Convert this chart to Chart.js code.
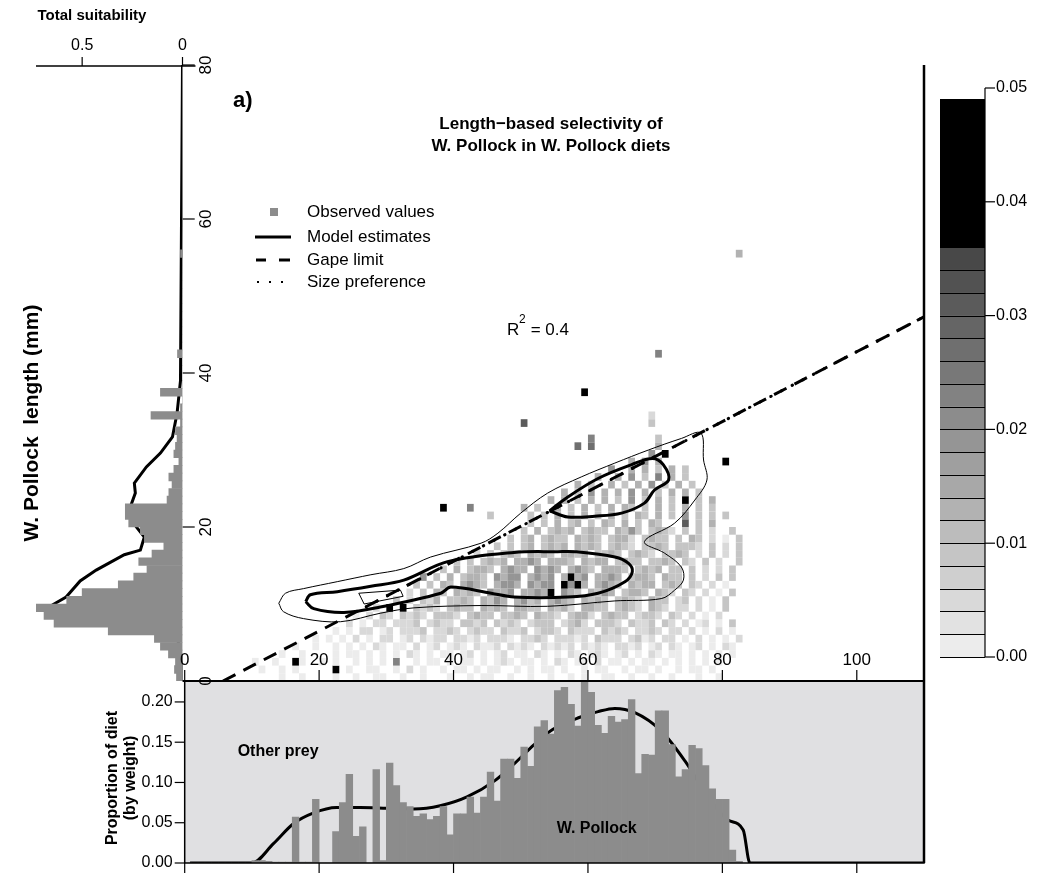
<!DOCTYPE html>
<html>
<head>
<meta charset="utf-8">
<script src="https://cdn.jsdelivr.net/npm/chart.js@4.4.1/dist/chart.umd.min.js"></script>
<style>
  html, body { margin: 0; padding: 0; background: #fff; }
  #wrap { position: relative; width: 1038px; height: 874px; overflow: hidden; }
  #wrap canvas { position: absolute; left: 0; top: 0; }
</style>
</head>
<body>
<div id="wrap">
  <canvas id="dietChart" width="1038" height="874"></canvas>
  <canvas id="suitChart" width="1038" height="874"></canvas>
  <canvas id="mainChart" width="1038" height="874"></canvas>
  <canvas id="barChart" width="1038" height="874"></canvas>
</div>
<script>
// ---- ticks ----
const mainXTicks = [0, 20, 40, 60, 80, 100];
const mainYTicks = [0, 20, 40, 60, 80];
const suitTicks = [0.5, 0];
const dietYTicks = [0, 0.05, 0.10, 0.15, 0.20];
const colorTicks = [0, 0.01, 0.02, 0.03, 0.04, 0.05];

// ---- left panel: prey length histogram (1 mm bins) + total suitability ----
const lengthHist = [0.03, 0.04, 0.035, 0.07, 0.11, 0.14, 0.37, 0.64, 0.69, 0.735,
  0.577, 0.50, 0.32, 0.243, 0.177, 0.218, 0.152, 0.093, 0.19, 0.21,
  0.268, 0.285, 0.285, 0.077, 0.068, 0.052, 0.068, 0.043, 0.018, 0.043,
  0.035, 0.027, 0.035, 0.01, 0.157, 0.01, 0, 0.11, 0, 0,
  0, 0, 0.025, 0, 0, 0, 0, 0, 0, 0,
  0, 0, 0, 0, 0, 0.01];
const suitLen = [0, 3, 5.8, 9.7, 10.9, 13, 14.4, 16.4, 17, 18.7, 20, 21.8, 22.6, 24.4, 25.7,
  27.8, 29.6, 31.7, 34.8, 39, 80];
const suitVal = [0, 0.005, 0.027, 0.66, 0.58, 0.51, 0.43, 0.29, 0.21, 0.19, 0.23, 0.27, 0.26,
  0.235, 0.24, 0.18, 0.11, 0.05, 0.027, 0.01, 0];

// ---- bottom panel: proportion of diet by predator length (1 mm bins) ----
const dietProp = [0, 0, 0, 0, 0, 0, 0, 0, 0, 0,
  0.003, 0.003, 0.002, 0.001, 0.001, 0.001, 0.057, 0.001, 0.001, 0.079,
  0, 0, 0.039, 0.075, 0.11, 0.033, 0.045, 0, 0.116, 0.003,
  0.124, 0.096, 0.075, 0.07, 0.058, 0.061, 0.054, 0.058, 0.07, 0.035,
  0.061, 0.061, 0.082, 0.062, 0.082, 0.113, 0.077, 0.129, 0.129, 0.105,
  0.144, 0.12, 0.169, 0.177, 0.16, 0.214, 0.218, 0.197, 0.17, 0.225,
  0.212, 0.171, 0.161, 0.182, 0.175, 0.178, 0.203, 0.111, 0.135, 0.134,
  0.189, 0.189, 0.147, 0.107, 0.116, 0.146, 0.142, 0.121, 0.092, 0.079,
  0.079, 0.016, 0.002];
const dietFitX = [0.8, 10, 13.2, 16.2, 19.1, 22.6, 26.1, 30.1, 34.1, 38, 42, 46.1, 49, 52, 54.8,
  58.8, 61.5, 64, 66.9, 70.9, 74.4, 77.9, 80.9, 83.1, 84.1, 110];
const dietFitY = [0, 0, 0.024, 0.049, 0.062, 0.069, 0.069, 0.068, 0.067, 0.071, 0.082, 0.102,
  0.123, 0.147, 0.166, 0.181, 0.188, 0.192, 0.187, 0.164, 0.127, 0.082, 0.053, 0.041, 0, 0];

// ---- main panel: model contours, gape limit, size preference ----
const outerX = [14.0, 15.0, 17.7, 22.7, 27.7, 32.6, 36.6, 44.1, 46.6, 50.0, 54.0, 59.0, 64.0, 69.0,
  73.9, 76.8, 77.2, 77.7, 75.9, 72.9, 68.4, 71.4, 73.9, 74.2, 72.9, 70.9, 64.0, 54.0, 44.1,
  34.1, 29.1, 23.2, 17.7, 14.7];
const outerY = [10.1, 11.4, 12.0, 12.9, 13.8, 14.6, 16.1, 17.9, 19.2, 21.8, 24.4, 26.5, 28.3, 30.0,
  31.5, 32.2, 28.7, 26.1, 23.5, 20.5, 18.1, 16.6, 14.8, 13.1, 11.8, 10.7, 10.4, 9.7, 9.8,
  9.5, 8.8, 7.7, 8.1, 9.0];
const innerLowX = [18.0, 18.7, 22.7, 27.7, 32.6, 39.1, 49.0, 55.5, 58.0, 64.0, 66.0, 66.6, 65.5,
  61.5, 57.0, 49.0, 45.6, 39.6, 38.1, 29.1, 23.7, 19.2];
const innerLowY = [10.3, 11.2, 11.6, 12.3, 13.1, 15.5, 16.7, 16.8, 16.8, 16.1, 15.3, 14.2, 12.9,
  11.4, 10.9, 10.9, 11.4, 12.2, 11.4, 9.6, 8.9, 9.4];
const innerHighX = [54.3, 57.0, 61.5, 66.5, 69.6, 71.2, 72.0, 69.9, 68.4, 65.0, 61.0, 57.0];
const innerHighY = [22.1, 23.9, 26.3, 28.1, 28.9, 28.1, 26.1, 24.8, 23.1, 21.8, 21.4, 21.3];
const smallLoopX = [25.9, 32.1, 32.5, 26.7];
const smallLoopY = [11.4, 11.8, 11.0, 10.0];
const gapeX = [5.7, 110];
const gapeY = [0, 47.3];
const prefX = [27, 110];
const prefY = [9.64, 47.3];

// ---- observed values: rows of 1x1 mm cells [prey length, first predator length, codes] ----
// codes: '.' empty, '1' (lightest) .. '9' (darkest grey), 'X' black
const obsRows = [
  [0, 14, '1..1....1..1..11..1..1...1..1.11..1..1..1..1.1..11..1..1..1...1..1'],
  [1, 11, '1..1.1.....X.1..11..1.2.1..1.11.1.11..1.1.11.1..1.11..1.11.1..1.11.1'],
  [2, 10, '1..1..X1..1.1..1.1.1.6..1.11.1.11.1.121.11.1.21.11.2.11.1.11.1.1.1.1.1'],
  [3, 14, '1..1....1.11.1.1.1.21.1.11.12.1.12.11.21.1.21.121.12.1.21.11.1.1.1.1'],
  [4, 16, '1..1..1.1.1.21.11.2.12.121.2112.2121.21212.2121.2212.12.21.12.1.21'],
  [5, 19, '1.1.1.2.1.22.12.2122.2212.2221.2232.22212.3222.2312.22.1.2.1.1.2'],
  [6, 22, '1.1.22.12.2223.2232.2322.3223.2332.3222.3232.2232.22.2.1.2.1'],
  [7, 24, '2.1.22.2223.2322.3323.3232.2333.2342.3332.3223.32.2.12.1.3'],
  [8, 25, '1.2.32.3232.3332.3433.3343.4332.3442.3433.2332.32.2.1.2'],
  [9, 27, '.2.X.X.3232.3433.4343.4433.4342.4433.3432.432.22.2.1.3'],
  [10, 31, '3.2.324.3343.4354.4534.4543.4343.3432.433.23.2.1.3'],
  [11, 33, '2.3.43.4343.5445.4454X.543.4354.3443.432.32.2.1.3'],
  [12, 34, '3.3.43.4543.4554.5455.X5X4.4543.4344.343.32.2.1'],
  [13, 35, '5.3.4.3443.5455.4545.4X45.4454.3443.433.3.2.3.3'],
  [14, 38, '3.4.3443.4544.5454.4543.4443.3434.33.3.2.2.3'],
  [15, 40, '3.3.3434.4454.4443.4344.3433.3343.32.3.2..3'],
  [16, 43, '2.3.343.4343.4434.3343.3432.3343.2.3.2.3'],
  [17, 46, '3.3.34.3434.4343.3432.3343.3332.3.2.3'],
  [18, 48, '3.34.3433.4343.3442.3433.3.43.2.1.3'],
  [19, 50, '3.4.3434.3433.4353.3432.3.3.2..3'],
  [20, 51, '3.3.4.34.3.43.4.3.43...8.3.4'],
  [21, 45, '3.....3.3.4.3.4.3.4.3.43.4.3.5.3.3.3'],
  [22, 38, 'X...6.......4.3..4.3.4.3.4.43.3.4.3.4.3.3'],
  [23, 54, '4.4.3.4.4.3.5.3.4.3.X.3.4'],
  [24, 56, '4.3.5.4.4.5.4.3.4.4.3'],
  [25, 58, '4.3..4.3.4.5.3.4.3'],
  [26, 61, '4..4.5.3.6.4.3'],
  [27, 63, '5..4.4.3.4.3'],
  [28, 66, '4.5.4.........X'],
  [29, 69, '5.X'],
  [30, 58, '7.7.........4'],
  [31, 60, '6.........3'],
  [33, 50, '8..................3'],
  [34, 69, '2'],
  [37, 59, 'X'],
  [42, 70, '6'],
  [55, 82, '4']
];
const codeValues = { '1': 0.001, '2': 0.005, '3': 0.009, '4': 0.013, '5': 0.019, '6': 0.023,
  '7': 0.027, '8': 0.031, '9': 0.035, 'X': 0.045 };

// colour bar breaks: 18 grey steps of 0.002, then black
const colorBreaks = [0, 0.002, 0.004, 0.006, 0.008, 0.010, 0.012, 0.014, 0.016, 0.018, 0.020,
  0.022, 0.024, 0.026, 0.028, 0.030, 0.032, 0.034, 0.036, 0.049];

const FONT = "'Liberation Sans', Arial, Helvetica, sans-serif";
const TOP = 65, AXIS0 = 681, LEFT0 = 184.7, RIGHT = 924, DIETBOT = 863;

function segColor(k) {
  if (k >= colorBreaks.length - 2) return '#000';
  const g = Math.round(236 - k * (236 - 72) / 17);
  return `rgb(${g},${g},${g})`;
}
function codeColor(c) {
  const v = codeValues[c];
  let k = 0;
  while (k < colorBreaks.length - 2 && v >= colorBreaks[k + 1]) k++;
  return segColor(k);
}
function pts(xs, ys, close) {
  const p = xs.map((v, i) => ({ x: v, y: ys[i] }));
  if (close) p.push({ x: xs[0], y: ys[0] });
  return p;
}
function line(ctx, x0, y0, x1, y1, w) {
  ctx.beginPath();
  ctx.lineWidth = w || 1;
  ctx.moveTo(x0, y0);
  ctx.lineTo(x1, y1);
  ctx.stroke();
}
function rotText(ctx, txt, x, y, font) {
  ctx.save();
  ctx.translate(x, y);
  ctx.rotate(-Math.PI / 2);
  ctx.font = font;
  ctx.textAlign = 'center';
  ctx.textBaseline = 'middle';
  ctx.fillText(txt, 0, 0);
  ctx.restore();
}

const baseOpts = {
  responsive: false,
  devicePixelRatio: 1,
  animation: false,
  events: [],
  plugins: { legend: { display: false }, tooltip: { enabled: false } }
};

// ---------------- bottom panel ----------------
new Chart(document.getElementById('dietChart'), {
  type: 'bar',
  data: {
    datasets: [
      {
        type: 'bar',
        data: dietProp.map((v, i) => ({ x: i + 0.5, y: v })),
        backgroundColor: '#8c8c8c',
        borderWidth: 0,
        barPercentage: 1,
        categoryPercentage: 1
      },
      {
        type: 'line',
        data: pts(dietFitX, dietFitY),
        borderColor: '#000',
        borderWidth: 3,
        pointRadius: 0,
        cubicInterpolationMode: 'monotone'
      }
    ]
  },
  options: {
    ...baseOpts,
    layout: { padding: { left: LEFT0, right: 1038 - RIGHT, top: AXIS0, bottom: 874 - DIETBOT } },
    scales: {
      x: { type: 'linear', min: 0, max: 110, offset: false, display: false },
      y: { type: 'linear', min: 0, max: 0.226, display: false }
    }
  },
  plugins: [{
    id: 'dietDeco',
    beforeDatasetsDraw(chart) {
      const { ctx, chartArea: a } = chart;
      ctx.save();
      ctx.fillStyle = '#e0e0e2';
      ctx.fillRect(a.left, a.top, a.right - a.left, a.bottom - a.top);
      ctx.restore();
    },
    afterDraw(chart) {
      const { ctx, chartArea: a, scales: { x, y } } = chart;
      ctx.save();
      ctx.strokeStyle = '#000';
      ctx.fillStyle = '#000';
      ctx.lineWidth = 1.5;
      ctx.strokeRect(a.left, a.top, a.right - a.left, a.bottom - a.top);
      line(ctx, a.right, a.top, a.right, a.bottom, 2.5);
      ctx.font = `16px ${FONT}`;
      ctx.textAlign = 'right';
      ctx.textBaseline = 'middle';
      dietYTicks.forEach(t => {
        const py = y.getPixelForValue(t);
        line(ctx, a.left - 10, py, a.left, py, 1.2);
        ctx.fillText(t.toFixed(2), a.left - 12, py);
      });
      mainXTicks.forEach(t => {
        const px = x.getPixelForValue(t);
        line(ctx, px, a.bottom, px, a.bottom + 10, 1.2);
      });
      ctx.font = `bold 16px ${FONT}`;
      ctx.textAlign = 'center';
      ctx.fillText('Other prey', x.getPixelForValue(13.9), y.getPixelForValue(0.138));
      ctx.fillText('W. Pollock', x.getPixelForValue(61.3), y.getPixelForValue(0.043));
      rotText(ctx, 'Proportion of diet', 113, 778, `bold 16px ${FONT}`);
      rotText(ctx, '(by weight)', 131, 778, `bold 16px ${FONT}`);
      ctx.restore();
    }
  }]
});

// ---------------- left panel ----------------
new Chart(document.getElementById('suitChart'), {
  type: 'bar',
  data: {
    datasets: [
      {
        type: 'bar',
        indexAxis: 'y',
        data: lengthHist.map((v, i) => ({ x: v, y: i + 0.5 })),
        backgroundColor: '#8c8c8c',
        borderWidth: 0,
        barPercentage: 1,
        categoryPercentage: 1
      },
      {
        type: 'line',
        indexAxis: 'y',
        data: pts(suitVal, suitLen),
        borderColor: '#000',
        borderWidth: 3,
        pointRadius: 0,
        tension: 0
      }
    ]
  },
  options: {
    ...baseOpts,
    indexAxis: 'y',
    layout: { padding: { left: 36, right: 1038 - 182.5, top: TOP, bottom: 874 - AXIS0 } },
    scales: {
      x: { type: 'linear', min: 0, max: 0.73, reverse: true, offset: false, display: false },
      y: { type: 'linear', min: 0, max: 80, offset: false, display: false }
    }
  },
  plugins: [{
    id: 'suitDeco',
    afterDraw(chart) {
      const { ctx, chartArea: a, scales: { x } } = chart;
      ctx.save();
      ctx.strokeStyle = '#000';
      ctx.fillStyle = '#000';
      line(ctx, a.left, a.top + 1, a.right + 13, a.top + 1, 1.5);
      ctx.font = `16px ${FONT}`;
      ctx.textAlign = 'center';
      ctx.textBaseline = 'middle';
      suitTicks.forEach(t => {
        const px = x.getPixelForValue(t);
        line(ctx, px, a.top + 1, px, a.top - 8, 1.2);
        ctx.fillText(String(t), px, a.top - 19);
      });
      ctx.font = `bold 15px ${FONT}`;
      ctx.fillText('Total suitability', 92, 16);
      rotText(ctx, 'W. Pollock  length (mm)', 32, 423, `bold 21px ${FONT}`);
      ctx.restore();
    }
  }]
});

// ---------------- main panel ----------------
const contourStyle = (w) => ({ type: 'scatter', showLine: true, borderColor: '#000', borderWidth: w, pointRadius: 0, tension: 0.35, fill: false });
new Chart(document.getElementById('mainChart'), {
  type: 'scatter',
  data: {
    datasets: [
      { ...contourStyle(1), data: pts(outerX, outerY, true) },
      { ...contourStyle(3), data: pts(innerLowX, innerLowY, true) },
      { ...contourStyle(3), data: pts(innerHighX, innerHighY, true) },
      { ...contourStyle(1), tension: 0, data: pts(smallLoopX, smallLoopY, true) },
      { type: 'scatter', showLine: true, data: pts(gapeX, gapeY), borderColor: '#000', borderWidth: 3, borderDash: [14, 9], pointRadius: 0 },
      { type: 'scatter', showLine: true, data: pts(prefX, prefY), borderColor: '#000', borderWidth: 3, borderDash: [0.5, 11.5], borderCapStyle: 'round', pointRadius: 0 }
    ]
  },
  options: {
    ...baseOpts,
    layout: { padding: { left: LEFT0, right: 1038 - RIGHT, top: TOP, bottom: 874 - AXIS0 } },
    scales: {
      x: { type: 'linear', min: 0, max: 110, display: false },
      y: { type: 'linear', min: 0, max: 80, display: false }
    }
  },
  plugins: [{
    id: 'mainDeco',
    beforeDatasetsDraw(chart) {
      const { ctx, scales: { x, y } } = chart;
      ctx.save();
      obsRows.forEach(([len, start, codes]) => {
        for (let k = 0; k < codes.length; k++) {
          const c = codes[k];
          if (c === '.') continue;
          const x0 = x.getPixelForValue(start + k), x1 = x.getPixelForValue(start + k + 1);
          const y0 = y.getPixelForValue(len + 1), y1 = y.getPixelForValue(len);
          ctx.fillStyle = codeColor(c);
          ctx.fillRect(x0, y0, x1 - x0, y1 - y0);
        }
      });
      ctx.restore();
    },
    afterDraw(chart) {
      const { ctx, chartArea: a, scales: { x, y } } = chart;
      ctx.save();
      ctx.strokeStyle = '#000';
      ctx.fillStyle = '#000';
      line(ctx, a.right, a.top, a.right, a.bottom, 2.5);
      line(ctx, a.left - 2, a.bottom, a.right, a.bottom, 2);
      ctx.font = `17px ${FONT}`;
      ctx.textAlign = 'center';
      ctx.textBaseline = 'middle';
      mainXTicks.forEach(t => {
        const px = x.getPixelForValue(t);
        line(ctx, px, a.bottom, px, a.bottom - 11, 1.2);
        ctx.fillText(String(t), px, a.bottom - 21);
      });
      mainYTicks.forEach(t => {
        const py = y.getPixelForValue(t);
        line(ctx, a.left - 2, py, a.left + 10, py, 1.2);
        rotText(ctx, String(t), a.left + 22, py, `17px ${FONT}`);
      });
      // panel label and title
      ctx.font = `bold 22px ${FONT}`;
      ctx.textAlign = 'left';
      ctx.fillText('a)', 233, 101);
      ctx.font = `bold 17px ${FONT}`;
      ctx.textAlign = 'center';
      ctx.fillText('Length\u2212based selectivity of', 551, 124);
      ctx.fillText('W. Pollock in W. Pollock diets', 551, 146);
      // legend
      ctx.font = `17px ${FONT}`;
      ctx.textAlign = 'left';
      const legY = [212, 237, 260, 282];
      ['Observed values', 'Model estimates', 'Gape limit', 'Size preference'].forEach((t, i) => ctx.fillText(t, 307, legY[i]));
      ctx.fillStyle = '#8c8c8c';
      ctx.fillRect(270, legY[0] - 4, 8, 8);
      ctx.fillStyle = '#000';
      line(ctx, 255, legY[1], 291, legY[1], 3);
      line(ctx, 256, legY[2], 266, legY[2], 3);
      line(ctx, 279, legY[2], 290, legY[2], 3);
      [258, 270, 282].forEach(px => ctx.fillRect(px - 1, legY[3] - 1, 2, 2));
      // R squared
      ctx.font = `17px ${FONT}`;
      ctx.fillText('R', 507, 330);
      ctx.font = `12px ${FONT}`;
      ctx.fillText('2', 519, 320);
      ctx.font = `17px ${FONT}`;
      ctx.fillText(' = 0.4', 526, 330);
      ctx.restore();
    }
  }]
});

// ---------------- colour bar ----------------
new Chart(document.getElementById('barChart'), {
  type: 'bar',
  data: {
    labels: ['scale'],
    datasets: colorBreaks.slice(0, -1).map((lo, k) => ({
      data: [[lo, colorBreaks[k + 1]]],
      backgroundColor: segColor(k),
      borderWidth: 0,
      grouped: false,
      barPercentage: 1,
      categoryPercentage: 1
    }))
  },
  options: {
    ...baseOpts,
    layout: { padding: { left: 940, right: 1038 - 985, top: 88, bottom: 874 - 657 } },
    scales: {
      x: { display: false },
      y: { type: 'linear', min: 0, max: 0.05, display: false }
    }
  },
  plugins: [{
    id: 'barDeco',
    afterDraw(chart) {
      const { ctx, chartArea: a, scales: { y } } = chart;
      ctx.save();
      ctx.strokeStyle = '#000';
      ctx.fillStyle = '#000';
      colorBreaks.slice(0, -1).forEach(b => {
        const py = Math.round(y.getPixelForValue(b)) + 0.5;
        line(ctx, a.left, py, a.right, py, 1);
      });
      line(ctx, a.right, y.getPixelForValue(0), a.right, y.getPixelForValue(0.05), 1.2);
      ctx.font = `16px ${FONT}`;
      ctx.textAlign = 'left';
      ctx.textBaseline = 'middle';
      colorTicks.forEach(t => {
        const py = y.getPixelForValue(t);
        line(ctx, a.right, py, a.right + 10, py, 1.2);
        ctx.fillText(t.toFixed(2), a.right + 11, py);
      });
      ctx.restore();
    }
  }]
});
</script>
</body>
</html>
